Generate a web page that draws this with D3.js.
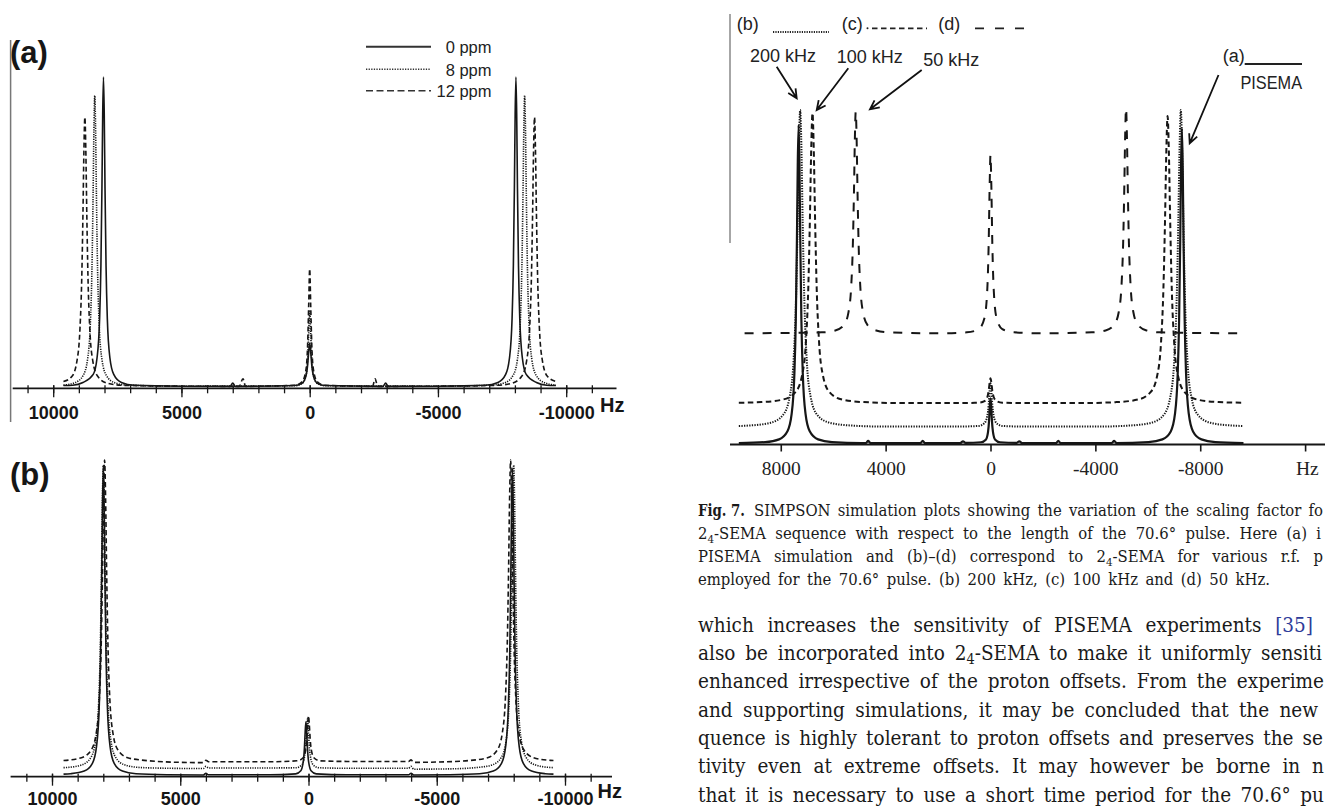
<!DOCTYPE html>
<html>
<head>
<meta charset="utf-8">
<script src="https://cdn.jsdelivr.net/npm/d3@7"></script>
<style>
  html, body { margin: 0; padding: 0; background: #fff; overflow: hidden; }
  svg { display: block; }
</style>
</head>
<body>
<svg id="page" width="1325" height="808"></svg>
<script>
// ---- data: spectra, [Hz, intensity] ----
// panel (a): proton offsets, PISEMA-like sequence, 0 / 8 / 12 ppm
const a0ppm = [[9600,0.3],[9240,0.4],[8840,1.3],[8440,3.9],[8290,9.3],[8190,22],[8140,39],[8100,64],[8070,88],[8040,100],[8010,88],[7980,64],[7940,39],[7890,22],[7790,9.3],[7640,3.9],[7340,1.3],[6840,0.4],[5000,0.1],[3100,0.05],[3000,1.1],[2900,0.05],[600,0.3],[300,1],[150,3.3],[80,7],[40,11],[0,14],[-40,11],[-80,7],[-150,3.3],[-300,1],[-600,0.3],[-2860,0.05],[-2960,1.1],[-3060,0.05],[-5000,0.1],[-6840,0.4],[-7340,1.3],[-7640,3.9],[-7790,9.3],[-7890,22],[-7940,39],[-7980,64],[-8010,88],[-8040,100],[-8070,88],[-8100,64],[-8140,39],[-8190,22],[-8290,9.3],[-8440,3.9],[-8840,1.3],[-9240,0.4],[-9600,0.3]];
const a8ppm = [[9600,0.45],[9160,1.2],[8830,3.6],[8660,8.8],[8550,20.6],[8490,37.7],[8445,61.8],[8415,81.7],[8380,94],[8345,81.7],[8315,61.8],[8270,37.7],[8210,20.6],[8100,8.8],[7930,3.6],[7600,1.2],[7080,0.45],[5000,0.1],[600,0.25],[300,0.95],[150,3.4],[80,8.9],[40,17],[0,24.6],[-40,17],[-80,8.9],[-150,3.4],[-300,0.95],[-600,0.25],[-5000,0.1],[-7080,0.45],[-7600,1.2],[-7930,3.6],[-8100,8.8],[-8210,20.6],[-8270,37.7],[-8315,61.8],[-8345,81.7],[-8380,94],[-8415,81.7],[-8445,61.8],[-8490,37.7],[-8550,20.6],[-8660,8.8],[-8830,3.6],[-9160,1.2],[-9600,0.45]];
const a12ppm = [[9600,1.6],[9265,3.3],[9075,8.2],[8955,18.9],[8885,35.7],[8840,55.7],[8805,75],[8765,87],[8725,75],[8690,55.7],[8645,35.7],[8575,18.9],[8455,8.2],[8265,3.3],[7895,1.1],[7315,0.4],[5000,0.1],[2750,0.05],[2600,2.5],[2500,0.05],[600,0.4],[300,1.5],[150,5.2],[80,13.7],[40,26],[0,38],[-40,26],[-80,13.7],[-150,5.2],[-300,1.5],[-600,0.4],[-2450,0.05],[-2550,2.5],[-2650,0.05],[-5000,0.1],[-7315,0.4],[-7895,1.1],[-8265,3.3],[-8455,8.2],[-8575,18.9],[-8645,35.7],[-8690,55.7],[-8725,75],[-8765,87],[-8805,75],[-8840,55.7],[-8885,35.7],[-8955,18.9],[-9075,8.2],[-9265,3.3],[-9600,1.6]];

// panel (b): 2_4-SEMA, same offsets
const b0ppm = [[9550,0.6],[9275,0.74],[8745,1.6],[8425,4.1],[8265,9.5],[8160,22.1],[8106,38.9],[8064,63.5],[8032,87],[8000,99.3],[7968,87],[7936,63.5],[7894,38.9],[7840,22.1],[7735,9.5],[7575,4.1],[7255,1.6],[6725,0.74],[5500,0.4],[4100,0.3],[4000,0.9],[3900,0.4],[1500,0.4],[500,0.7],[300,1.7],[200,4.9],[160,8.9],[130,14.1],[100,17.5],[70,14.1],[40,8.9],[0,4.9],[-100,1.7],[-300,0.7],[-1500,0.4],[-3900,0.4],[-4000,0.9],[-4100,0.3],[-5500,0.4],[-6675,0.74],[-7205,1.6],[-7525,4.1],[-7685,9.5],[-7790,22.1],[-7844,38.9],[-7886,63.5],[-7918,87],[-7950,99.3],[-7982,87],[-8014,63.5],[-8056,38.9],[-8110,22.1],[-8215,9.5],[-8375,4.1],[-8695,1.6],[-9225,0.74],[-9550,0.6]];
const b8ppm = [[9550,2.7],[9420,2.75],[8830,3.6],[8475,6.1],[8295,11.5],[8180,23.7],[8115,42.1],[8070,65.8],[8035,88.5],[8000,100.3],[7965,88.5],[7930,65.8],[7885,42.1],[7820,23.7],[7705,11.5],[7525,6.1],[7170,3.6],[6580,2.75],[5500,2.5],[4100,2.4],[4000,3.1],[3900,2.6],[1500,2.6],[490,2.65],[260,3.6],[150,6.5],[105,10.3],[70,15.6],[40,18.4],[10,15.6],[-25,10.3],[-70,6.5],[-180,3.6],[-410,2.65],[-1500,2.5],[-3900,2.5],[-4000,3.1],[-4100,2.2],[-5500,2.3],[-6580,2.75],[-7170,3.6],[-7525,6.1],[-7705,11.5],[-7820,23.7],[-7885,42.1],[-7930,65.8],[-7965,88.5],[-8000,100.3],[-8035,88.5],[-8070,65.8],[-8115,42.1],[-8180,23.7],[-8295,11.5],[-8475,6.1],[-8830,3.6],[-9420,2.75],[-9550,2.7]];
const b12ppm = [[9550,5.0],[8850,5.9],[8470,8.4],[8280,13.6],[8150,25.6],[8080,43],[8030,66.2],[7990,89.5],[7950,101.9],[7910,89.5],[7870,66.2],[7820,43],[7750,25.6],[7620,13.6],[7430,8.4],[7050,5.9],[6400,5.05],[5000,4.4],[4100,4.3],[4000,5.1],[3900,4.6],[1500,4.6],[450,4.9],[220,5.8],[110,8.4],[65,12],[30,16.8],[0,19.4],[-30,16.8],[-65,12],[-110,8.4],[-220,5.8],[-450,4.9],[-1500,4.7],[-3900,4.7],[-4000,5.2],[-4100,4.4],[-5000,4.5],[-6330,5.05],[-6980,5.9],[-7360,8.4],[-7550,13.6],[-7680,25.6],[-7750,43],[-7800,66.2],[-7840,89.5],[-7880,101.9],[-7920,89.5],[-7960,66.2],[-8010,43],[-8080,25.6],[-8210,13.6],[-8400,8.4],[-8780,5.9],[-9430,5.05],[-9550,5.0]];

// Fig. 7: (a) PISEMA, (b) 200 kHz, (c) 100 kHz, (d) 50 kHz
const pisema = [[9600,0.15],[8595,0.44],[8065,1.3],[7745,3.85],[7585,9.3],[7480,22],[7426,39],[7384,63.8],[7352,87.6],[7320,100],[7288,87.6],[7256,63.8],[7214,39],[7160,22],[7055,9.3],[6895,3.85],[6575,1.3],[6045,0.44],[4900,0.15],[4750,0.15],[4666,0.8],[4580,0.15],[2680,0.1],[2586,0.8],[2490,0.1],[1150,0.15],[1049,0.7],[950,0.2],[360,0.4],[180,1.2],[95,3.6],[55,7.1],[25,11.8],[0,14.2],[-25,11.8],[-55,7.1],[-95,3.6],[-180,1.2],[-360,0.4],[-1000,0.2],[-1098,0.7],[-1200,0.15],[-2490,0.1],[-2587,0.8],[-2680,0.1],[-4620,0.15],[-4718,0.8],[-4800,0.15],[-6025,0.44],[-6555,1.3],[-6875,3.8],[-7035,9.2],[-7140,21.8],[-7194,38.6],[-7236,63.2],[-7268,86.7],[-7300,99],[-7332,86.7],[-7364,63.2],[-7406,38.6],[-7460,21.8],[-7565,9.2],[-7725,3.8],[-8045,1.3],[-8575,0.44],[-9650,0.15]];
const sema200 = [[9600,5.5],[9210,5.64],[8390,6.5],[7910,9.0],[7660,14.7],[7510,26.4],[7420,44.8],[7355,70.1],[7310,91.9],[7260,104.7],[7210,91.9],[7165,70.1],[7100,44.8],[7010,26.4],[6860,14.7],[6610,9.0],[6130,6.5],[5310,5.64],[4000,5.3],[1500,5.3],[450,5.5],[230,6.4],[120,8.7],[70,12.05],[30,16.8],[0,18.9],[-30,16.8],[-70,12.05],[-120,8.7],[-230,6.4],[-450,5.5],[-1500,5.3],[-4000,5.3],[-5310,5.64],[-6130,6.5],[-6610,9.0],[-6860,14.7],[-7010,26.4],[-7100,44.8],[-7165,70.1],[-7210,91.9],[-7260,104.7],[-7310,91.9],[-7355,70.1],[-7420,44.8],[-7510,26.4],[-7660,14.7],[-7910,9.0],[-8390,6.5],[-9210,5.64],[-9650,5.5]];
const sema100 = [[9600,12.8],[8740,13.0],[7920,13.8],[7440,16.1],[7190,21.3],[7040,32],[6950,48.9],[6885,72],[6840,91.9],[6790,103.7],[6740,91.9],[6695,72],[6630,48.9],[6540,32],[6390,21.3],[6140,16.1],[5660,13.8],[4840,13.0],[3500,12.7],[1500,12.7],[450,12.8],[230,13.3],[120,14.6],[70,16.55],[30,19.3],[0,20.5],[-30,19.3],[-70,16.55],[-120,14.6],[-230,13.3],[-450,12.8],[-1500,12.7],[-3500,12.7],[-4805,13.0],[-5625,13.8],[-6105,16.1],[-6355,21.2],[-6505,31.8],[-6595,48.5],[-6660,71.4],[-6705,91.2],[-6755,102.8],[-6805,91.2],[-6850,71.4],[-6915,48.5],[-7005,31.8],[-7155,21.2],[-7405,16.1],[-7885,13.8],[-8705,13.0],[-9650,12.8]];
const sema50 = [[9380,34.6],[6440,34.9],[5920,35.5],[5590,37.2],[5420,41.1],[5310,49.8],[5250,62.5],[5205,80.3],[5175,95.1],[5140,104.2],[5105,95.1],[5075,80.3],[5030,62.5],[4970,49.8],[4860,41.1],[4690,37.2],[4360,35.5],[3840,34.9],[2000,34.6],[900,34.9],[450,35.9],[230,39.4],[120,48.8],[70,62.6],[30,81.9],[0,90.6],[-30,81.9],[-70,62.6],[-120,48.8],[-230,39.4],[-450,35.9],[-900,34.9],[-2000,34.6],[-3870,34.9],[-4390,35.5],[-4720,37.3],[-4890,41.2],[-5000,50.1],[-5060,62.9],[-5105,81],[-5135,96],[-5170,105.2],[-5205,96],[-5235,81],[-5280,62.9],[-5340,50.1],[-5450,41.2],[-5620,37.3],[-5950,35.5],[-6470,34.9],[-9650,34.6]];

// tick labels
const hzMajorLeft = [10000, 5000, 0, -5000, -10000];
const hzMinorLeft = d3.range(-11000, 11001, 1000);
const hzTicksFig7 = [8000, 4000, 0, -4000, -8000, -12000];
const offsetLabels = ["0 ppm", "8 ppm", "12 ppm"];
const powerLabels = ["200 kHz", "100 kHz", "50 kHz"];

// text as far as it shows on the page (the column runs past the right edge)
const captionLines = [
  "SIMPSON simulation plots showing the variation of the scaling factor fo",
  "2_4-SEMA sequence with respect to the length of the 70.6° pulse. Here (a) i",
  "PISEMA simulation and (b)–(d) correspond to 2_4-SEMA for various r.f. p",
  "employed for the 70.6° pulse. (b) 200 kHz, (c) 100 kHz and (d) 50 kHz."
];
const captionEnds = [1323, 1321, 1323, 1270];
const bodyLines = [
  "which increases the sensitivity of PISEMA experiments [35]",
  "also be incorporated into 2_4-SEMA to make it uniformly sensiti",
  "enhanced irrespective of the proton offsets. From the experime",
  "and supporting simulations, it may be concluded that the new",
  "quence is highly tolerant to proton offsets and preserves the se",
  "tivity even at extreme offsets. It may however be borne in n",
  "that it is necessary to use a short time period for the 70.6° pu"
];
const bodyEnds = [1313, 1322, 1324, 1318, 1323, 1324, 1324];

// ---- styles ----
const SANS = "'Liberation Sans', Arial, sans-serif";
const SERIF = "'Liberation Serif', 'Times New Roman', serif";
const TEXTSERIF = "'DejaVu Serif Condensed', 'DejaVu Serif', serif";
const INK = "#161616";
const leftStyles = [
  { width: 1.6, dash: null },
  { width: 1.6, dash: "1.2,1.2" },
  { width: 1.6, dash: "5,3" }
];

const svg = d3.select("#page");
svg.append("rect").attr("width", 1325).attr("height", 808).attr("fill", "#fff");

function drawSpectrum(g, data, x, y, style) {
  const line = d3.line()
    .x(d => x(d[0]))
    .y(d => y(d[1]))
    .curve(d3.curveMonotoneX);
  g.append("path")
    .datum(data)
    .attr("d", line)
    .attr("fill", "none")
    .attr("stroke", INK)
    .attr("stroke-width", style.width)
    .attr("stroke-linejoin", "round")
    .attr("stroke-dasharray", style.dash);
}

// left panels axis: ticks crossing the baseline, bold labels
function leftAxis(x, axisY, x0, x1, labelY, hzX, hzY) {
  const g = svg.append("g");
  g.append("line").attr("x1", x0).attr("x2", x1).attr("y1", axisY).attr("y2", axisY)
    .attr("stroke", INK).attr("stroke-width", 1.8);
  const minor = g.append("g").attr("transform", `translate(0,${axisY - 3})`)
    .call(d3.axisBottom(x).tickValues(hzMinorLeft).tickSize(8).tickFormat(""));
  const major = g.append("g").attr("transform", `translate(0,${axisY - 3})`)
    .call(d3.axisBottom(x).tickValues(hzMajorLeft).tickSize(12).tickFormat(d => String(d)));
  [minor, major].forEach(a => {
    a.select(".domain").remove();
    a.selectAll(".tick line").attr("stroke", INK).attr("stroke-width", 1.3);
  });
  major.selectAll(".tick text")
    .attr("y", labelY - axisY + 3).attr("dy", 0)
    .attr("fill", INK)
    .style("font-family", SANS).style("font-weight", "bold").style("font-size", "18px");
  g.append("text").attr("x", hzX).attr("y", hzY).text("Hz")
    .attr("fill", INK)
    .style("font-family", SANS).style("font-weight", "bold").style("font-size", "20px");
}

// ---------- panel (a) ----------
const xA = d3.scaleLinear().domain([12000, -12000]).range([1.9, 617.5]);
const yA = d3.scaleLinear().domain([0, 100]).range([386.5, 77]);
svg.append("line").attr("x1", 10.6).attr("x2", 10.6).attr("y1", 40).attr("y2", 422)
  .attr("stroke", "#777").attr("stroke-width", 1.5);
svg.append("text").attr("x", 10).attr("y", 63).text("(a)")
  .attr("fill", INK).style("font-family", SANS).style("font-weight", "bold").style("font-size", "31px");
leftAxis(xA, 388.3, 12.7, 616.5, 419, 600, 411.7);
const gA = svg.append("g");
[a0ppm, a8ppm, a12ppm].forEach((s, i) => drawSpectrum(gA, s, xA, yA, leftStyles[i]));

// legend (a)
const legA = svg.append("g");
offsetLabels.forEach((lab, i) => {
  const ly = [46.7, 69.3, 90.7][i];
  legA.append("line").attr("x1", 366).attr("x2", 431).attr("y1", ly).attr("y2", ly)
    .attr("stroke", "#333").attr("stroke-width", i === 0 ? 2 : 1.6)
    .attr("stroke-dasharray", i === 0 ? null : (i === 1 ? "1.3,1.3" : "7,3.5"));
  legA.append("text").attr("x", 491.5).attr("y", ly + 6.5).attr("text-anchor", "end").text(lab)
    .attr("fill", "#222").style("font-family", SANS).style("font-size", "16.5px");
});

// ---------- panel (b) ----------
const xB = d3.scaleLinear().domain([12000, -12000]).range([0.7, 616.3]);
const yB = d3.scaleLinear().domain([0, 100]).range([776, 466]);
svg.append("text").attr("x", 10).attr("y", 485).text("(b)")
  .attr("fill", INK).style("font-family", SANS).style("font-weight", "bold").style("font-size", "31px");
leftAxis(xB, 776.7, 10.6, 612, 805, 597.5, 798);
const gB = svg.append("g");
[b0ppm, b8ppm, b12ppm].forEach((s, i) => drawSpectrum(gB, s, xB, yB, leftStyles[i]));

// ---------- Fig. 7 ----------
const xR = d3.scaleLinear().domain([12000, -12000]).range([675.9, 1305.1]);
const yR = d3.scaleLinear().domain([0, 100]).range([443.5, 125]);
svg.append("line").attr("x1", 730).attr("x2", 730).attr("y1", 14).attr("y2", 243)
  .attr("stroke", "#888").attr("stroke-width", 1.5);

const gR = svg.append("g");
const rightStyles = [
  { width: 2.2, dash: null },
  { width: 2, dash: "1.3,1.3" },
  { width: 2, dash: "5.5,3.5" },
  { width: 2, dash: "9,9" }
];
[pisema, sema200, sema100, sema50].forEach((s, i) => drawSpectrum(gR, s, xR, yR, rightStyles[i]));

const axR = svg.append("g");
axR.append("line").attr("x1", 730).attr("x2", 1325).attr("y1", 444.5).attr("y2", 444.5)
  .attr("stroke", INK).attr("stroke-width", 2.2);
const axRt = axR.append("g").attr("transform", "translate(0,444.5)")
  .call(d3.axisBottom(xR).tickValues(hzTicksFig7).tickSize(7)
    .tickFormat(d => d === -12000 ? "" : String(d)));
axRt.select(".domain").remove();
axRt.selectAll(".tick line").attr("stroke", INK).attr("stroke-width", 1.6);
axRt.selectAll(".tick text").attr("y", 30.5).attr("dy", 0).attr("fill", "#222")
  .style("font-family", SERIF).style("font-size", "19.5px");
axR.append("text").attr("x", 1296).attr("y", 475).text("Hz").attr("fill", "#222")
  .style("font-family", SERIF).style("font-size", "19.5px");

// legend + annotations (Fig. 7)
const ann = svg.append("g").attr("fill", "#222").style("font-family", SANS).style("font-size", "18px");
ann.append("text").attr("x", 736.7).attr("y", 30).text("(b)");
ann.append("text").attr("x", 841.7).attr("y", 30).text("(c)");
ann.append("text").attr("x", 938.3).attr("y", 30).text("(d)");
ann.append("line").attr("x1", 773).attr("x2", 829).attr("y1", 32).attr("y2", 32)
  .attr("stroke", "#222").attr("stroke-width", 1.8).attr("stroke-dasharray", "1.2,1.2");
ann.append("circle").attr("cx", 867.5).attr("cy", 28.3).attr("r", 1).attr("fill", "#222");
ann.append("line").attr("x1", 872).attr("x2", 927).attr("y1", 28.3).attr("y2", 28.3)
  .attr("stroke", "#222").attr("stroke-width", 1.8).attr("stroke-dasharray", "5.5,3.5");
ann.append("line").attr("x1", 975).attr("x2", 1024).attr("y1", 28.3).attr("y2", 28.3)
  .attr("stroke", "#222").attr("stroke-width", 1.8).attr("stroke-dasharray", "9,11");

const powerPos = [[750, 61.7], [836.7, 63.3], [923.3, 65.7]];
powerLabels.forEach((lab, i) => {
  ann.append("text").attr("x", powerPos[i][0]).attr("y", powerPos[i][1]).text(lab);
});
ann.append("text").attr("x", 1222.7).attr("y", 62).text("(a)");
ann.append("line").attr("x1", 1244.7).attr("x2", 1302).attr("y1", 64).attr("y2", 64)
  .attr("stroke", "#222").attr("stroke-width", 1.8);
ann.append("text").attr("x", 1240.5).attr("y", 89).text("PISEMA")
  .attr("textLength", 61.5).attr("lengthAdjust", "spacingAndGlyphs");

const arrows = [
  [[776.7, 66.7], [796.7, 98.3]],
  [[848.3, 68.3], [816.7, 110]],
  [[921.7, 70], [870, 109.3]],
  [[1218.5, 75], [1189.7, 143.3]]
];
arrows.forEach(([p0, p1]) => {
  const ang = Math.atan2(p1[1] - p0[1], p1[0] - p0[0]);
  const L = 10, spread = 0.45;
  const w1 = [p1[0] - L * Math.cos(ang - spread), p1[1] - L * Math.sin(ang - spread)];
  const w2 = [p1[0] - L * Math.cos(ang + spread), p1[1] - L * Math.sin(ang + spread)];
  ann.append("path")
    .attr("d", `M${p0[0]},${p0[1]}L${p1[0]},${p1[1]}M${w1[0]},${w1[1]}L${p1[0]},${p1[1]}L${w2[0]},${w2[1]}`)
    .attr("fill", "none").attr("stroke", "#111").attr("stroke-width", 1.8);
});

// ---------- caption and body text ----------
function rich(t, str) {
  const parts = str.split(/(_4|\[35\])/);
  let shifted = false;
  parts.forEach(p => {
    if (!p) return;
    if (p === "_4") {
      t.append("tspan").attr("dy", 4).attr("font-size", "70%").text("4");
      shifted = true;
    } else {
      const s = t.append("tspan").text(p);
      if (shifted) { s.attr("dy", -4); shifted = false; }
      if (p === "[35]") s.attr("fill", "#2e3c9a");
    }
  });
}
// stretch word gaps to the column; squeeze glyphs if the line is too long
function justify(t, x0, x1) {
  const n = t.node();
  const w = n.getComputedTextLength();
  const spaces = (n.textContent.match(/ /g) || []).length;
  if (w > x1 - x0) {
    t.attr("textLength", x1 - x0).attr("lengthAdjust", "spacingAndGlyphs");
  } else if (spaces) {
    t.attr("word-spacing", (x1 - x0 - w) / spaces);
  }
}

const cap = svg.append("g").attr("fill", "#1a1a1a")
  .style("font-family", TEXTSERIF).style("font-size", "16.5px");
cap.append("text").attr("x", 698).attr("y", 516).style("font-weight", "bold").text("Fig. 7.")
  .attr("textLength", 47).attr("lengthAdjust", "spacingAndGlyphs");
const capY = [516, 539, 562, 584.5];
captionLines.forEach((s, i) => {
  const x0 = i === 0 ? 754 : 698;
  const t = cap.append("text").attr("x", x0).attr("y", capY[i]);
  rich(t, s);
  justify(t, x0, captionEnds[i]);
});

const body = svg.append("g").attr("fill", "#1a1a1a")
  .style("font-family", TEXTSERIF).style("font-size", "20.5px");
bodyLines.forEach((s, i) => {
  const t = body.append("text").attr("x", 698).attr("y", 631.7 + i * 28.33);
  rich(t, s);
  justify(t, 698, bodyEnds[i]);
});
</script>
</body>
</html>
